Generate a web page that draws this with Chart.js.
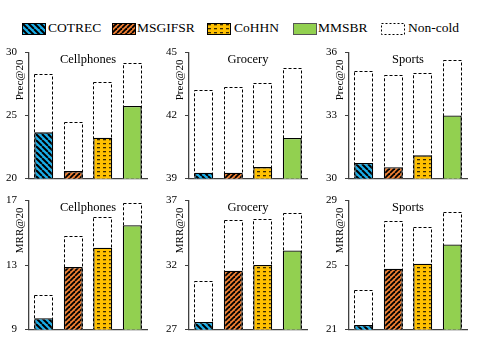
<!DOCTYPE html>
<html><head><meta charset="utf-8">
<script src="https://cdn.jsdelivr.net/npm/chart.js@4"></script>
<style>
body{margin:0;background:#fff;width:488px;height:355px;overflow:hidden;position:relative;font-family:"Liberation Serif","Times New Roman",serif;}
canvas.c{position:absolute;}
.lt{position:absolute;top:21px;font-size:13.5px;line-height:14px;color:#000;white-space:nowrap;font-family:"Liberation Serif",serif;}
canvas.sw{position:absolute;top:23px;}
</style></head><body>
<canvas class="sw" id="sw0" width="24" height="12" style="left:22px"></canvas><div class="lt" style="left:48px">COTREC</div>
<canvas class="sw" id="sw1" width="24" height="12" style="left:112px"></canvas><div class="lt" style="left:137px">MSGIFSR</div>
<canvas class="sw" id="sw2" width="24" height="12" style="left:207px"></canvas><div class="lt" style="left:234px">CoHHN</div>
<canvas class="sw" id="sw3" width="24" height="12" style="left:293px"></canvas><div class="lt" style="left:318px">MMSBR</div>
<canvas class="sw" id="sw4" width="24" height="12" style="left:381px"></canvas><div class="lt" style="left:408px">Non-cold</div>

<canvas class="c" id="p1" width="150" height="155" style="left:0px;top:38px"></canvas>
<canvas class="c" id="p2" width="150" height="155" style="left:160px;top:38px"></canvas>
<canvas class="c" id="p3" width="150" height="155" style="left:320px;top:38px"></canvas>
<canvas class="c" id="m1" width="150" height="158" style="left:0px;top:186px"></canvas>
<canvas class="c" id="m2" width="150" height="158" style="left:160px;top:186px"></canvas>
<canvas class="c" id="m3" width="150" height="158" style="left:320px;top:186px"></canvas>
<script>
// ---- data ----
const methods = ['COTREC', 'MSGIFSR', 'CoHHN', 'MMSBR'];
const domains = ['Cellphones', 'Grocery', 'Sports'];

const precCellCold = [23.66, 20.58, 23.24, 25.76];
const precCellNon  = [28.29, 24.47, 27.66, 29.21];
const precGrocCold = [39.27, 39.27, 39.54, 40.93];
const precGrocNon  = [43.20, 43.36, 43.55, 44.26];
const precSportCold = [30.74, 30.53, 31.10, 33.00];
const precSportNon  = [35.12, 34.93, 35.01, 35.63];

const mrrCellCold = [9.70, 12.88, 14.07, 15.47];
const mrrCellNon  = [11.16, 14.79, 15.97, 16.84];
const mrrGrocCold = [27.57, 31.56, 32.00, 33.13];
const mrrGrocNon  = [30.79, 35.48, 35.60, 36.07];
const mrrSportCold = [21.27, 24.77, 25.08, 26.28];
const mrrSportNon  = [23.47, 27.74, 27.33, 28.30];

const precCellTicks = [20, 25, 30];
const precGrocTicks = [39, 42, 45];
const precSportTicks = [30, 33, 36];
const mrrCellTicks = [9, 13, 17];
const mrrGrocTicks = [27, 32, 37];
const mrrSportTicks = [21, 25, 29];

// ---- patterns ----
function stripeTile(bg, dir, s, lw) {
  const c = document.createElement('canvas'); c.width = s; c.height = s;
  const x = c.getContext('2d');
  x.fillStyle = bg; x.fillRect(0, 0, s, s);
  x.strokeStyle = '#000'; x.lineWidth = lw;
  for (let k = -1; k <= 1; k++) {
    x.beginPath();
    if (dir === 'back') { x.moveTo(k * s, 0); x.lineTo(k * s + s, s); }
    else { x.moveTo(k * s, s); x.lineTo(k * s + s, 0); }
    x.stroke();
  }
  return c;
}
function dashTile() {
  const c = document.createElement('canvas'); c.width = 6; c.height = 4;
  const x = c.getContext('2d');
  x.fillStyle = '#ffc000'; x.fillRect(0, 0, 6, 4);
  x.fillStyle = '#3a2a00'; x.fillRect(1, 1, 3, 1.3);
  return c;
}
const tiles = [stripeTile('#1aaee8', 'back', 6, 2), stripeTile('#ed7d31', 'fwd', 5, 1.8), dashTile(), null];
const pctx = document.createElement('canvas').getContext('2d');
const fills = tiles.map(t => t ? pctx.createPattern(t, 'repeat') : '#92d050');

// legend swatches
for (let i = 0; i < 5; i++) {
  const cv = document.getElementById('sw' + i), x = cv.getContext('2d');
  if (i < 4) {
    x.fillStyle = i < 3 ? x.createPattern(tiles[i], 'repeat') : '#92d050';
    x.fillRect(0, 0, 24, 12);
    x.strokeStyle = i === 3 ? '#555' : '#000'; x.lineWidth = 1;
    x.strokeRect(0.5, 0.5, 23, 11);
  } else {
    x.fillStyle = '#fff'; x.fillRect(0, 0, 24, 12);
    x.strokeStyle = '#000'; x.lineWidth = 1; x.setLineDash([2, 2]);
    x.strokeRect(0.5, 0.5, 23, 11);
  }
}

function overlay(title, ytitle) {
  return {
    id: 'overlay',
    afterDatasetDraw(chart, args) {
      if (args.index !== 1) return;
      const ctx = chart.ctx, a = chart.chartArea;
      ctx.save();
      ctx.strokeStyle = '#000'; ctx.lineWidth = 1; ctx.setLineDash([3, 2]);
      args.meta.data.forEach(el => {
        const p = el.getProps(['x', 'y', 'base', 'width'], true);
        const b = Math.min(p.base, a.bottom);
        ctx.strokeRect(Math.round(p.x - p.width / 2) + 0.5, Math.round(p.y) + 0.5, Math.round(p.width) - 1, b - Math.round(p.y) - 1);
      });
      ctx.restore();
    },
    afterDraw(chart) {
      const ctx = chart.ctx, a = chart.chartArea;
      ctx.save();
      ctx.fillStyle = '#000';
      ctx.font = '12.5px "Liberation Serif"';
      ctx.textAlign = 'center'; ctx.textBaseline = 'top';
      ctx.fillText(title, (a.left + a.right) / 2, a.top + 1);
      ctx.translate(a.left - 9, a.top + 7);
      ctx.rotate(-Math.PI / 2);
      ctx.font = '11px "Liberation Serif"';
      ctx.textAlign = 'right'; ctx.textBaseline = 'middle';
      ctx.fillText(ytitle, 0, 0);
      ctx.restore();
    }
  };
}

function makeChart(id, cold, non, ticks, title, ytitle) {
  new Chart(document.getElementById(id), {
    type: 'bar',
    data: {
      labels: methods,
      datasets: [
        { label: 'cold', data: cold, backgroundColor: fills, borderColor: '#000', borderWidth: 1.3,
          grouped: false, order: 0, barPercentage: 0.64, categoryPercentage: 1 },
        { label: 'Non-cold', data: non, backgroundColor: '#fff', borderWidth: 0,
          grouped: false, order: 1, barPercentage: 0.64, categoryPercentage: 1 }
      ]
    },
    options: {
      responsive: false, animation: false, devicePixelRatio: 1,
      layout: { padding: { top: 9, right: 3, bottom: 4, left: 0 } },
      plugins: { legend: { display: false }, tooltip: { enabled: false } },
      scales: {
        x: { grid: { display: false }, ticks: { display: false },
             border: { display: true, color: '#404040', width: 1.3 },
             afterFit(s) { s.height = 0; } },
        y: { min: ticks[0], max: ticks[ticks.length - 1],
             afterBuildTicks(s) { s.ticks = ticks.map(v => ({ value: v })); },
             grid: { drawOnChartArea: false, drawTicks: true, tickLength: 4, color: '#404040' },
             border: { display: true, color: '#404040', width: 1.3 },
             ticks: { padding: 8, color: '#000', font: { family: 'Liberation Serif', size: 11 } },
             afterFit(s) { s.width = 29; } }
      }
    },
    plugins: [overlay(title, ytitle)]
  });
}

makeChart('p1', precCellCold, precCellNon, precCellTicks, domains[0], 'Prec@20');
makeChart('p2', precGrocCold, precGrocNon, precGrocTicks, domains[1], 'Prec@20');
makeChart('p3', precSportCold, precSportNon, precSportTicks, domains[2], 'Prec@20');
makeChart('m1', mrrCellCold, mrrCellNon, mrrCellTicks, domains[0], 'MRR@20');
makeChart('m2', mrrGrocCold, mrrGrocNon, mrrGrocTicks, domains[1], 'MRR@20');
makeChart('m3', mrrSportCold, mrrSportNon, mrrSportTicks, domains[2], 'MRR@20');
</script>
</body></html>
